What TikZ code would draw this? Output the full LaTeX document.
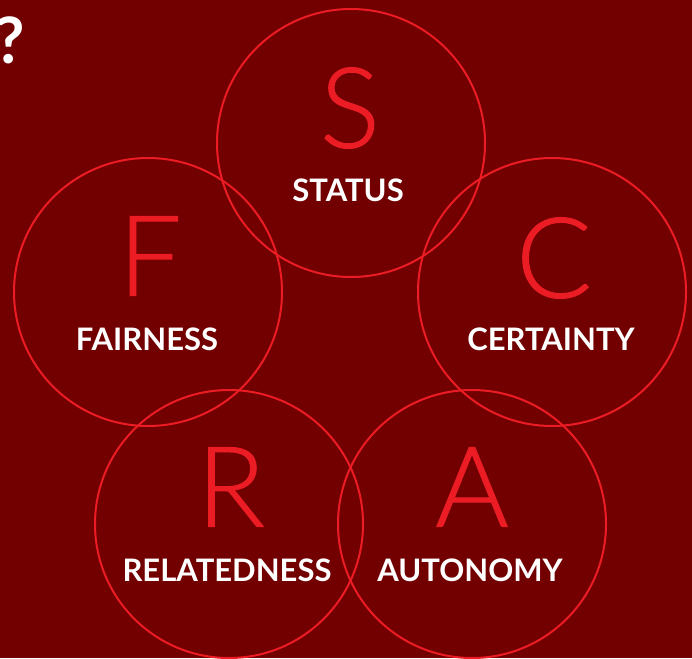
\documentclass[tikz,border=0pt]{standalone}
\usepackage{fontspec}
\setmainfont{Lato}
\newfontfamily\initialface{Lato Light}[BoldFont=Lato Light,BoldFeatures={FakeBold=0.9}]
\definecolor{bgred}{HTML}{730000}
\definecolor{ringred}{HTML}{EC1C24}
\begin{document}
\begin{tikzpicture}[x=1pt,y=-1pt,
  ring/.style={circle,draw=ringred,line width=2pt,minimum size=268pt,inner sep=0pt},
  initial/.style={text=ringred,font=\initialface\bfseries\fontsize{112}{112}\selectfont,inner sep=0pt},
  caption/.style={text=white,font=\bfseries\fontsize{31}{31}\selectfont,inner sep=0pt}]
  % canvas
  \fill[bgred] (0,0) rectangle (692,658);
  \useasboundingbox (0,0) rectangle (692,658);
  % question mark in the corner
  \node[text=white,font=\bfseries\fontsize{64}{64}\selectfont,inner sep=0pt,anchor=east] (qm) at (25,40) {?};
  % the five rings
  \node[ring] (rS) at (351,143) {};
  \node[ring] (rF) at (148,292) {};
  \node[ring] (rC) at (552,292) {};
  \node[ring] (rR) at (229,524) {};
  \node[ring] (rA) at (472,524) {};
  % initials
  \node[initial] (lS) at (350,108) {S};
  \node[initial] (lF) at (150,256) {F};
  \node[initial] (lC) at (554,258) {C};
  \node[initial] (lR) at (231,487) {R};
  \node[initial] (lA) at (472,487) {A};
  % captions
  \node[caption] (tS) at (348,190) {STATUS};
  \node[caption] (tF) at (147,339) {FAIRNESS};
  \node[caption] (tC) at (551,339) {CERTAINTY};
  \node[caption] (tR) at (227,570) {RELATEDNESS};
  \node[caption] (tA) at (470,570) {AUTONOMY};
\end{tikzpicture}
\end{document}
